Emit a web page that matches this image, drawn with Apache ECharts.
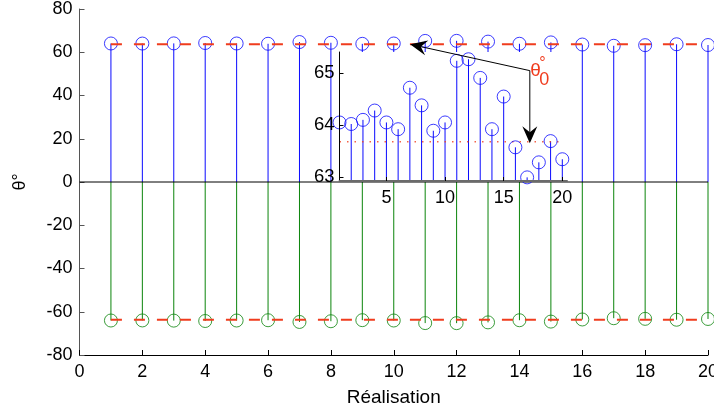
<!DOCTYPE html>
<html>
<head>
<meta charset="utf-8">
<script src="https://cdn.jsdelivr.net/npm/echarts@6/dist/echarts.min.js"></script>
<style>html,body{margin:0;padding:0;background:#fff;}#c{width:714px;height:410px;}</style>
</head>
<body>
<div id="c"></div>
<script>
// ---- data ----
const realisations = [1,2,3,4,5,6,7,8,9,10,11,12,13,14,15,16,17,18,19,20];
const thetaPos = [64.05,64.02,64.10,64.28,64.05,63.92,64.72,64.38,63.89,64.05,65.24,65.27,64.91,63.92,64.55,63.57,62.99,63.28,63.69,63.34];
const thetaNeg = [-64.05,-64.02,-64.10,-64.28,-64.05,-63.92,-64.72,-64.38,-63.89,-64.05,-65.24,-65.27,-64.91,-63.92,-64.55,-63.57,-62.99,-63.28,-63.69,-63.34];
const theta0 = 63.68;
const mainXTicks = [0,2,4,6,8,10,12,14,16,18,20];
const mainYTicks = [-80,-60,-40,-20,0,20,40,60,80];
const insetXTicks = [5,10,15,20];
const insetYTicks = [63,64,65];
const xLabel = 'Réalisation';
const yLabel = 'θ°';

const BLUE = '#0a0aff', GREEN = '#0b840b', RED = '#f03c1e';
const FONT = 'Liberation Sans, Arial, Helvetica, sans-serif';

const posPairs = realisations.map((x,i)=>[x, thetaPos[i]]);
const negPairs = realisations.map((x,i)=>[x, thetaNeg[i]]);

function stemSeries(data, color, xi, yi, base, z){
  return {
    type:'custom', xAxisIndex:xi, yAxisIndex:yi, z:z, silent:true,
    data:data,
    renderItem:function(params, api){
      const p0 = api.coord([api.value(0), base]);
      const p1 = api.coord([api.value(0), api.value(1)]);
      return {type:'line', shape:{x1:p0[0],y1:p0[1],x2:p0[0],y2:p1[1]}, style:{stroke:color, lineWidth:1}};
    }
  };
}
function circleSeries(data, color, xi, yi, z){
  return {type:'scatter', xAxisIndex:xi, yAxisIndex:yi, z:z, silent:true, data:data,
    symbol:'circle', symbolSize:13,
    itemStyle:{color:'rgba(0,0,0,0)', borderColor:color, borderWidth:1}};
}
const insetXMin = 1, insetXMax = 20.4;
const insetYMin = 62.92, insetYMax = 65.41;

const chart = echarts.init(document.getElementById('c'), null, {renderer:'canvas'});
const option = {
  animation:false,
  backgroundColor:'#fff',
  textStyle:{fontFamily:FONT},
  grid:[
    {left:79.5, right:6, top:9, bottom:55, show:false, outerBoundsMode:'none', containLabel:false},
    {left:339.5, right:147, top:52, bottom:229, show:false, outerBoundsMode:'none', containLabel:false}
  ],
  xAxis:[
    {gridIndex:0, type:'value', min:mainXTicks[0], max:mainXTicks[mainXTicks.length-1], interval:2,
     name:xLabel, nameLocation:'middle', nameGap:33, nameTextStyle:{fontSize:19, color:'#000', fontFamily:FONT},
     axisLine:{show:true, onZero:false, lineStyle:{color:'#000', width:1}},
     axisTick:{show:true, inside:true, length:5, lineStyle:{color:'#000'}},
     axisLabel:{fontSize:18, color:'#000', margin:8, fontFamily:FONT, hideOverlap:false},
     splitLine:{show:false}},
    {gridIndex:1, type:'value', min:insetXMin, max:insetXMax, z:12,
     axisLine:{show:true, onZero:false, lineStyle:{color:'#6a6a6a', width:2}},
     axisTick:{show:true, inside:true, length:4, customValues:insetXTicks, lineStyle:{color:'#000'}},
     axisLabel:{fontSize:18, color:'#000', margin:8, customValues:insetXTicks, fontFamily:FONT},
     splitLine:{show:false}}
  ],
  yAxis:[
    {gridIndex:0, type:'value', min:mainYTicks[0], max:mainYTicks[mainYTicks.length-1], interval:20,
     name:yLabel, nameLocation:'middle', nameGap:50, nameRotate:90, nameTextStyle:{fontSize:18, color:'#000', fontFamily:FONT},
     axisLine:{show:true, onZero:false, lineStyle:{color:'#555', width:1}},
     axisTick:{show:true, inside:true, length:5, lineStyle:{color:'#555'}},
     axisLabel:{fontSize:18, color:'#000', margin:7, fontFamily:FONT},
     splitLine:{show:false}},
    {gridIndex:1, type:'value', min:insetYMin, max:insetYMax, z:12,
     axisLine:{show:true, onZero:false, lineStyle:{color:'#000', width:1}},
     axisTick:{show:true, inside:true, length:4, customValues:insetYTicks, lineStyle:{color:'#000'}},
     axisLabel:{fontSize:18.5, color:'#000', margin:5, customValues:insetYTicks, fontFamily:FONT},
     splitLine:{show:false}}
  ],
  series:[
    // main zero line
    {type:'line', xAxisIndex:0, yAxisIndex:0, z:3, silent:true, showSymbol:false,
     data:[[mainXTicks[0],0],[mainXTicks[mainXTicks.length-1],0]], lineStyle:{color:'#000', width:1}},
    stemSeries(posPairs, BLUE, 0, 0, 0, 2),
    stemSeries(negPairs, GREEN, 0, 0, 0, 2),
    circleSeries(posPairs, BLUE, 0, 0, 2),
    circleSeries(negPairs, GREEN, 0, 0, 2),
    {type:'line', xAxisIndex:0, yAxisIndex:0, z:4, silent:true, showSymbol:false,
     data:[[realisations[0],theta0],[realisations[realisations.length-1],theta0]],
     lineStyle:{color:RED, width:2, type:[11,12]}},
    {type:'line', xAxisIndex:0, yAxisIndex:0, z:4, silent:true, showSymbol:false,
     data:[[realisations[0],-theta0],[realisations[realisations.length-1],-theta0]],
     lineStyle:{color:RED, width:2, type:[11,12]}},
    // inset
    stemSeries(posPairs, BLUE, 1, 1, insetYMin, 11),
    circleSeries(posPairs, BLUE, 1, 1, 11),
    {type:'line', xAxisIndex:1, yAxisIndex:1, z:11, silent:true, showSymbol:false,
     data:[[realisations[0],theta0],[realisations[realisations.length-1],theta0]],
     lineStyle:{color:RED, width:1.5, type:[1.5,6], opacity:0.8}}
  ]
};
chart.setOption(option);

// white background of inset (covers main plot beneath it)
const iTL = chart.convertToPixel({gridIndex:1}, [insetXMin, insetYMax]);
const iBR = chart.convertToPixel({gridIndex:1}, [insetXMax, insetYMin]);

// annotation arrows (anchored in data coordinates)
const start = chart.convertToPixel({gridIndex:0}, [14.33, 51.5]);
const tipLeft = chart.convertToPixel({gridIndex:0}, [10.52, theta0]);
const tipDownY = chart.convertToPixel({gridIndex:1}, [17.2, 63.65])[1];
const tipDown = [start[0], tipDownY];

function arrow(s, t){
  const dx = t[0]-s[0], dy = t[1]-s[1];
  const len = Math.sqrt(dx*dx+dy*dy);
  const ux = dx/len, uy = dy/len, nx = -uy, ny = ux;
  const L = 17, W = 7.5, N = 11;
  const notch = [t[0]-ux*N, t[1]-uy*N];
  return [
    {type:'line', z:20, shape:{x1:s[0], y1:s[1], x2:notch[0], y2:notch[1]}, style:{stroke:'#000', lineWidth:1}},
    {type:'polygon', z:20, shape:{points:[
      [t[0],t[1]],
      [t[0]-ux*L+nx*W, t[1]-uy*L+ny*W],
      notch,
      [t[0]-ux*L-nx*W, t[1]-uy*L-ny*W]
    ]}, style:{fill:'#000'}}
  ];
}
const graphics = [{type:'rect', z:6, silent:true,
  shape:{x:iTL[0], y:iTL[1], width:iBR[0]-iTL[0], height:iBR[1]-iTL[1]}, style:{fill:'#fff'}}];
graphics.push(...arrow(start, tipLeft), ...arrow(start, tipDown));
graphics.push({type:'text', z:21, x:start[0]+0.5, y:start[1]+0.5,
  style:{text:'θ', fill:RED, font:'19px '+FONT, verticalAlign:'middle', align:'left'}});
graphics.push({type:'text', z:21, x:start[0]+9.5, y:start[1]+9.5,
  style:{text:'0', fill:RED, font:'18px '+FONT, verticalAlign:'middle', align:'left'}});
graphics.push({type:'text', z:21, x:start[0]+9.5, y:start[1]-15,
  style:{text:'°', fill:RED, font:'16px '+FONT, verticalAlign:'top', align:'left'}});
chart.setOption({graphic:graphics});
</script>
</body>
</html>
